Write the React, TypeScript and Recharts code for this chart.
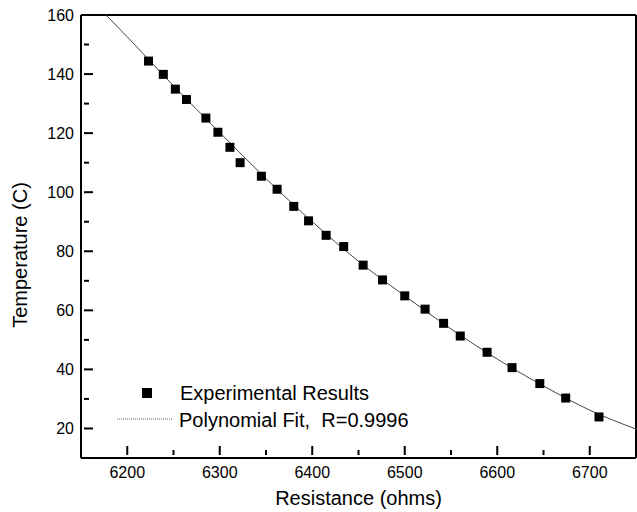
import React from "react";
import { ComposedChart, Scatter, XAxis, YAxis } from "recharts";

// measured points (resistance in ohms, temperature in C)
const resistance = [
  6223, 6239, 6252, 6264, 6285, 6298, 6311, 6322, 6345, 6362, 6380, 6396,
  6415, 6434, 6455, 6476, 6500, 6522, 6542, 6560, 6589, 6616, 6646, 6674,
  6710,
];
const temperature = [
  144.4, 139.9, 134.9, 131.4, 125.1, 120.3, 115.2, 110.0, 105.4, 101.0, 95.2,
  90.3, 85.4, 81.6, 75.3, 70.3, 64.9, 60.4, 55.6, 51.3, 45.8, 40.6, 35.2, 30.3,
  23.9,
];

// polynomial fit curve
const fitResistance = [
  6177, 6200, 6250, 6300, 6350, 6400, 6450, 6500, 6550, 6600, 6650, 6700, 6750,
];
const fitTemperature = [
  160, 152.6, 136.0, 120.2, 104.6, 90.0, 76.6, 64.9, 53.7, 43.5, 34.4, 26.2,
  19.8,
];

// major ticks are labelled, the ones in between are minor
const xTicks = [
  6200, 6250, 6300, 6350, 6400, 6450, 6500, 6550, 6600, 6650, 6700,
];
const yTicks = [20, 30, 40, 50, 60, 70, 80, 90, 100, 110, 120, 130, 140, 150, 160];

const X_DOMAIN = [6150, 6750];
const Y_DOMAIN = [10, 160];

const points = resistance.map((r, i) => ({ r, t: temperature[i] }));
const fit = fitResistance.map((r, i) => ({ r, t: fitTemperature[i] }));

const FONT = "'Liberation Sans', Arial, Helvetica, sans-serif";
const GAP = 11; // default tickSize 9 + tickMargin 2
const FRAME = { stroke: "#000", strokeWidth: 2 };
const HIDDEN_TICK = { stroke: "none" };

const isMajorX = (v: number) => v % 100 === 0;
const isMajorY = (v: number) => v % 20 === 0;

const BottomTick = (props: any) => {
  const { x, y, payload } = props;
  const a = y - GAP;
  const major = isMajorX(payload.value);
  return (
    <g>
      <rect x={x - 1} y={a - (major ? 9 : 5)} width={2} height={major ? 9 : 5} fill="#000" />
      {major && (
        <text x={x} y={a + 17} textAnchor="middle" dominantBaseline="central" fontSize={16} fontFamily={FONT} fill="#000">
          {payload.value}
        </text>
      )}
    </g>
  );
};

const TopTick = (props: any) => {
  const { x, y, payload } = props;
  const a = y - GAP;
  const major = isMajorX(payload.value);
  return <rect x={x - 1} y={a} width={2} height={major ? 9 : 5} fill="#000" />;
};

const LeftTick = (props: any) => {
  const { x, y, payload } = props;
  const a = x + GAP;
  const major = isMajorY(payload.value);
  return (
    <g>
      <rect x={a} y={y - 1} width={major ? 9 : 5} height={2} fill="#000" />
      {major && (
        <text x={a - 10} y={y} textAnchor="end" dominantBaseline="central" fontSize={16} fontFamily={FONT} fill="#000">
          {payload.value}
        </text>
      )}
    </g>
  );
};

const RightTick = (props: any) => {
  const { x, y, payload } = props;
  const a = x + GAP;
  const major = isMajorY(payload.value);
  return <rect x={a - (major ? 9 : 5)} y={y - 1} width={major ? 9 : 5} height={2} fill="#000" />;
};

const Square = (props: any) => {
  const { cx, cy } = props;
  return <rect x={cx - 4.5} y={cy - 4.5} width={9} height={9} fill="#000" />;
};

const NoDot = () => <g />;

const LegendBox = () => (
  <svg width={330} height={60} style={{ position: "absolute", left: 100, top: 375 }}>
    <rect x={42} y={13} width={10} height={10} fill="#000" />
    <text x={80} y={18} dominantBaseline="central" fontSize={20} fontFamily={FONT} fill="#000">
      Experimental Results
    </text>
    <line x1={17} x2={73} y1={44} y2={44} stroke="#666" strokeWidth={1} strokeDasharray="1 1" />
    <text x={79} y={45} dominantBaseline="central" fontSize={20} fontFamily={FONT} fill="#000" style={{ whiteSpace: "pre" }}>
      {"Polynomial Fit,  R=0.9996"}
    </text>
  </svg>
);

export default function App() {
  return (
    <div style={{ position: "absolute", left: 0, top: 0, width: 637, height: 512 }}>
      <ComposedChart
        width={637}
        height={512}
        margin={{ top: 15, right: 1, bottom: 0, left: 0 }}
      >
        <XAxis
          xAxisId="b"
          dataKey="r"
          type="number"
          domain={X_DOMAIN}
          ticks={xTicks}
          height={54}
          tickLine={HIDDEN_TICK}
          axisLine={FRAME}
          tick={<BottomTick />}
          interval={0}
          label={{
            content: (p: any) => (
              <text
                x={p.viewBox.x + p.viewBox.width / 2}
                y={p.viewBox.y + 40}
                textAnchor="middle"
                dominantBaseline="central"
                fontSize={20}
                fontFamily={FONT}
                fill="#000"
              >
                Resistance (ohms)
              </text>
            ),
          }}
        />
        <XAxis
          xAxisId="t"
          dataKey="r"
          type="number"
          orientation="top"
          mirror
          height={12}
          domain={X_DOMAIN}
          ticks={xTicks}
          tickLine={HIDDEN_TICK}
          axisLine={FRAME}
          tick={<TopTick />}
          interval={0}
        />
        <YAxis
          yAxisId="l"
          dataKey="t"
          type="number"
          domain={Y_DOMAIN}
          ticks={yTicks}
          width={81}
          tickLine={HIDDEN_TICK}
          axisLine={FRAME}
          tick={<LeftTick />}
          interval={0}
          label={{
            content: () => (
              <text
                x={20}
                y={255}
                transform="rotate(-90 20 255)"
                textAnchor="middle"
                dominantBaseline="central"
                fontSize={20}
                fontFamily={FONT}
                fill="#000"
              >
                Temperature (C)
              </text>
            ),
          }}
        />
        <YAxis
          yAxisId="r"
          dataKey="t"
          type="number"
          orientation="right"
          mirror
          width={12}
          domain={Y_DOMAIN}
          ticks={yTicks}
          tickLine={HIDDEN_TICK}
          axisLine={FRAME}
          tick={<RightTick />}
          interval={0}
        />
        <Scatter
          xAxisId="b"
          yAxisId="l"
          data={fit}
          dataKey="t"
          line={{ stroke: "#444", strokeWidth: 1 }}
          lineType="joint"
          lineJointType="monotoneX"
          shape={<NoDot />}
          legendType="none"
          isAnimationActive={false}
        />
        <Scatter
          xAxisId="b"
          yAxisId="l"
          data={points}
          dataKey="t"
          shape={<Square />}
          fill="#000"
          isAnimationActive={false}
        />
      </ComposedChart>
      <LegendBox />
    </div>
  );
}
